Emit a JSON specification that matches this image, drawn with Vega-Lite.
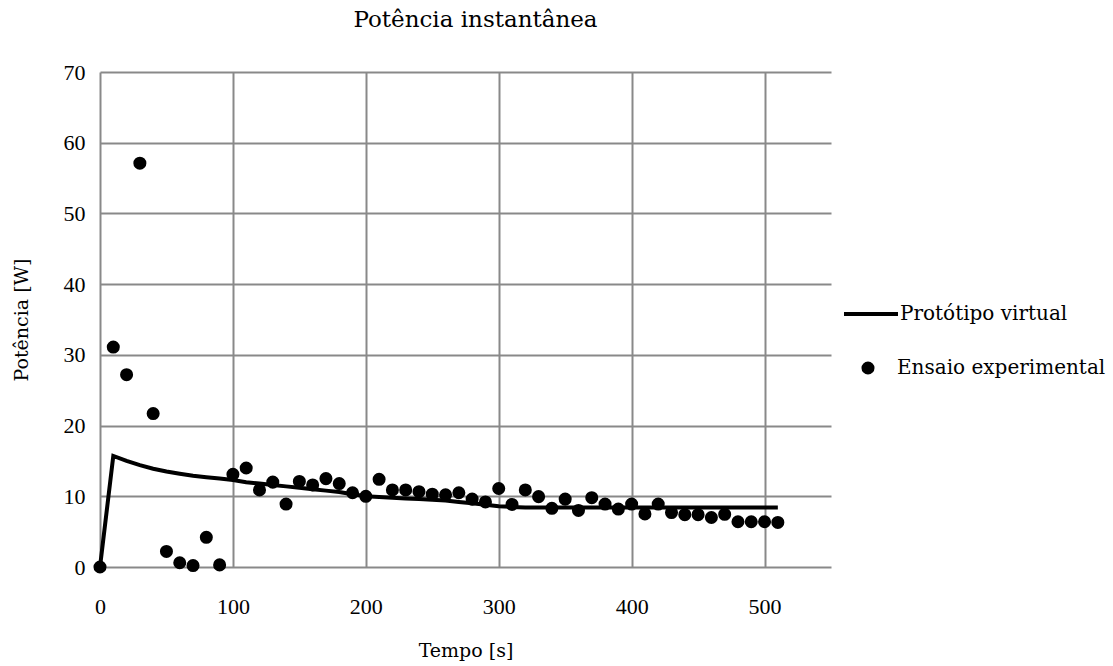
{
  "$schema": "https://vega.github.io/schema/vega-lite/v6.json",
  "width": 731,
  "height": 495,
  "autosize": {"type": "none"},
  "padding": {"left": 100, "top": 72, "right": 282, "bottom": 99},
  "background": "white",
  "config": {
    "font": "DejaVu Serif",
    "view": {"stroke": null},
    "axis": {
      "labelFont": "Liberation Serif",
      "titleFont": "DejaVu Serif",
      "labelFontSize": 22,
      "titleFontSize": 19,
      "titleFontWeight": "normal",
      "labelColor": "#000",
      "titleColor": "#000",
      "domain": false,
      "ticks": false,
      "labelFlush": false,
      "gridColor": "#898989",
      "gridWidth": 2,
      "gridOpacity": 1
    },
    "legend": {
      "labelFont": "DejaVu Serif",
      "labelFontSize": 20,
      "labelColor": "#000",
      "labelLimit": 0
    }
  },
  "title": {
    "text": "Potência instantânea",
    "font": "DejaVu Serif",
    "fontSize": 23,
    "fontWeight": "normal",
    "color": "#000",
    "anchor": "middle",
    "dx": 10,
    "offset": 29
  },
  "datasets": {
    "virtual": [
      {"t": 0, "P": 0, "serie": "Protótipo virtual"},
      {"t": 10, "P": 15.7, "serie": "Protótipo virtual"},
      {"t": 20, "P": 15.0, "serie": "Protótipo virtual"},
      {"t": 30, "P": 14.4, "serie": "Protótipo virtual"},
      {"t": 40, "P": 13.9, "serie": "Protótipo virtual"},
      {"t": 50, "P": 13.5, "serie": "Protótipo virtual"},
      {"t": 60, "P": 13.2, "serie": "Protótipo virtual"},
      {"t": 70, "P": 12.9, "serie": "Protótipo virtual"},
      {"t": 80, "P": 12.7, "serie": "Protótipo virtual"},
      {"t": 90, "P": 12.5, "serie": "Protótipo virtual"},
      {"t": 100, "P": 12.3, "serie": "Protótipo virtual"},
      {"t": 110, "P": 12.0, "serie": "Protótipo virtual"},
      {"t": 120, "P": 11.8, "serie": "Protótipo virtual"},
      {"t": 130, "P": 11.6, "serie": "Protótipo virtual"},
      {"t": 140, "P": 11.4, "serie": "Protótipo virtual"},
      {"t": 150, "P": 11.2, "serie": "Protótipo virtual"},
      {"t": 160, "P": 11.0, "serie": "Protótipo virtual"},
      {"t": 170, "P": 10.8, "serie": "Protótipo virtual"},
      {"t": 180, "P": 10.6, "serie": "Protótipo virtual"},
      {"t": 190, "P": 10.3, "serie": "Protótipo virtual"},
      {"t": 200, "P": 10.0, "serie": "Protótipo virtual"},
      {"t": 210, "P": 9.9, "serie": "Protótipo virtual"},
      {"t": 220, "P": 9.8, "serie": "Protótipo virtual"},
      {"t": 230, "P": 9.7, "serie": "Protótipo virtual"},
      {"t": 240, "P": 9.6, "serie": "Protótipo virtual"},
      {"t": 250, "P": 9.5, "serie": "Protótipo virtual"},
      {"t": 260, "P": 9.4, "serie": "Protótipo virtual"},
      {"t": 270, "P": 9.2, "serie": "Protótipo virtual"},
      {"t": 280, "P": 9.0, "serie": "Protótipo virtual"},
      {"t": 290, "P": 8.8, "serie": "Protótipo virtual"},
      {"t": 300, "P": 8.6, "serie": "Protótipo virtual"},
      {"t": 310, "P": 8.5, "serie": "Protótipo virtual"},
      {"t": 320, "P": 8.4, "serie": "Protótipo virtual"},
      {"t": 330, "P": 8.4, "serie": "Protótipo virtual"},
      {"t": 340, "P": 8.4, "serie": "Protótipo virtual"},
      {"t": 350, "P": 8.4, "serie": "Protótipo virtual"},
      {"t": 360, "P": 8.4, "serie": "Protótipo virtual"},
      {"t": 370, "P": 8.4, "serie": "Protótipo virtual"},
      {"t": 380, "P": 8.4, "serie": "Protótipo virtual"},
      {"t": 390, "P": 8.4, "serie": "Protótipo virtual"},
      {"t": 400, "P": 8.4, "serie": "Protótipo virtual"},
      {"t": 410, "P": 8.4, "serie": "Protótipo virtual"},
      {"t": 420, "P": 8.4, "serie": "Protótipo virtual"},
      {"t": 430, "P": 8.4, "serie": "Protótipo virtual"},
      {"t": 440, "P": 8.4, "serie": "Protótipo virtual"},
      {"t": 450, "P": 8.4, "serie": "Protótipo virtual"},
      {"t": 460, "P": 8.4, "serie": "Protótipo virtual"},
      {"t": 470, "P": 8.4, "serie": "Protótipo virtual"},
      {"t": 480, "P": 8.4, "serie": "Protótipo virtual"},
      {"t": 490, "P": 8.4, "serie": "Protótipo virtual"},
      {"t": 500, "P": 8.4, "serie": "Protótipo virtual"},
      {"t": 510, "P": 8.4, "serie": "Protótipo virtual"}
    ],
    "ensaio": [
      {"t": 0, "P": 0, "serie": "Ensaio experimental"},
      {"t": 10, "P": 31.1, "serie": "Ensaio experimental"},
      {"t": 20, "P": 27.2, "serie": "Ensaio experimental"},
      {"t": 30, "P": 57.1, "serie": "Ensaio experimental"},
      {"t": 40, "P": 21.7, "serie": "Ensaio experimental"},
      {"t": 50, "P": 2.2, "serie": "Ensaio experimental"},
      {"t": 60, "P": 0.6, "serie": "Ensaio experimental"},
      {"t": 70, "P": 0.2, "serie": "Ensaio experimental"},
      {"t": 80, "P": 4.2, "serie": "Ensaio experimental"},
      {"t": 90, "P": 0.3, "serie": "Ensaio experimental"},
      {"t": 100, "P": 13.1, "serie": "Ensaio experimental"},
      {"t": 110, "P": 14.0, "serie": "Ensaio experimental"},
      {"t": 120, "P": 10.9, "serie": "Ensaio experimental"},
      {"t": 130, "P": 12.0, "serie": "Ensaio experimental"},
      {"t": 140, "P": 8.9, "serie": "Ensaio experimental"},
      {"t": 150, "P": 12.1, "serie": "Ensaio experimental"},
      {"t": 160, "P": 11.6, "serie": "Ensaio experimental"},
      {"t": 170, "P": 12.5, "serie": "Ensaio experimental"},
      {"t": 180, "P": 11.8, "serie": "Ensaio experimental"},
      {"t": 190, "P": 10.5, "serie": "Ensaio experimental"},
      {"t": 200, "P": 10.0, "serie": "Ensaio experimental"},
      {"t": 210, "P": 12.4, "serie": "Ensaio experimental"},
      {"t": 220, "P": 10.9, "serie": "Ensaio experimental"},
      {"t": 230, "P": 10.9, "serie": "Ensaio experimental"},
      {"t": 240, "P": 10.65, "serie": "Ensaio experimental"},
      {"t": 250, "P": 10.3, "serie": "Ensaio experimental"},
      {"t": 260, "P": 10.2, "serie": "Ensaio experimental"},
      {"t": 270, "P": 10.5, "serie": "Ensaio experimental"},
      {"t": 280, "P": 9.6, "serie": "Ensaio experimental"},
      {"t": 290, "P": 9.2, "serie": "Ensaio experimental"},
      {"t": 300, "P": 11.1, "serie": "Ensaio experimental"},
      {"t": 310, "P": 8.85, "serie": "Ensaio experimental"},
      {"t": 320, "P": 10.9, "serie": "Ensaio experimental"},
      {"t": 330, "P": 9.95, "serie": "Ensaio experimental"},
      {"t": 340, "P": 8.3, "serie": "Ensaio experimental"},
      {"t": 350, "P": 9.6, "serie": "Ensaio experimental"},
      {"t": 360, "P": 8.0, "serie": "Ensaio experimental"},
      {"t": 370, "P": 9.8, "serie": "Ensaio experimental"},
      {"t": 380, "P": 8.9, "serie": "Ensaio experimental"},
      {"t": 390, "P": 8.2, "serie": "Ensaio experimental"},
      {"t": 400, "P": 8.9, "serie": "Ensaio experimental"},
      {"t": 410, "P": 7.5, "serie": "Ensaio experimental"},
      {"t": 420, "P": 8.9, "serie": "Ensaio experimental"},
      {"t": 430, "P": 7.7, "serie": "Ensaio experimental"},
      {"t": 440, "P": 7.4, "serie": "Ensaio experimental"},
      {"t": 450, "P": 7.4, "serie": "Ensaio experimental"},
      {"t": 460, "P": 7.0, "serie": "Ensaio experimental"},
      {"t": 470, "P": 7.45, "serie": "Ensaio experimental"},
      {"t": 480, "P": 6.4, "serie": "Ensaio experimental"},
      {"t": 490, "P": 6.4, "serie": "Ensaio experimental"},
      {"t": 500, "P": 6.4, "serie": "Ensaio experimental"},
      {"t": 510, "P": 6.3, "serie": "Ensaio experimental"}
    ]
  },
  "encoding": {
    "x": {
      "field": "t",
      "type": "quantitative",
      "scale": {"domain": [0, 550], "nice": false, "zero": false},
      "axis": {
        "title": "Tempo [s]",
        "values": [0, 100, 200, 300, 400, 500],
        "labelPadding": 29,
        "titlePadding": 24
      }
    },
    "y": {
      "field": "P",
      "type": "quantitative",
      "scale": {"domain": [0, 70], "nice": false},
      "axis": {
        "title": "Potência [W]",
        "values": [0, 10, 20, 30, 40, 50, 60, 70],
        "labelPadding": 15,
        "titlePadding": 32
      }
    }
  },
  "layer": [
    {
      "data": {"name": "virtual"},
      "mark": {"type": "line", "strokeWidth": 4, "strokeJoin": "miter"},
      "encoding": {
        "color": {
          "field": "serie",
          "type": "nominal",
          "scale": {"domain": ["Protótipo virtual"], "range": ["#000000"]},
          "legend": {
            "title": null,
            "orient": "none",
            "legendX": 742,
            "legendY": 213,
            "symbolType": "stroke",
            "symbolSize": 2916,
            "symbolStrokeWidth": 4,
            "labelOffset": 0
          }
        }
      }
    },
    {
      "data": {"name": "ensaio"},
      "mark": {"type": "point", "filled": true, "size": 170, "opacity": 1, "color": "#000000"},
      "encoding": {
        "shape": {
          "field": "serie",
          "type": "nominal",
          "scale": {"domain": ["Ensaio experimental"], "range": ["circle"]},
          "legend": {
            "title": null,
            "orient": "none",
            "legendX": 758,
            "legendY": 286,
            "symbolSize": 170,
            "symbolFillColor": "#000000",
            "symbolStrokeWidth": 0,
            "labelOffset": 19
          }
        }
      }
    }
  ]
}
